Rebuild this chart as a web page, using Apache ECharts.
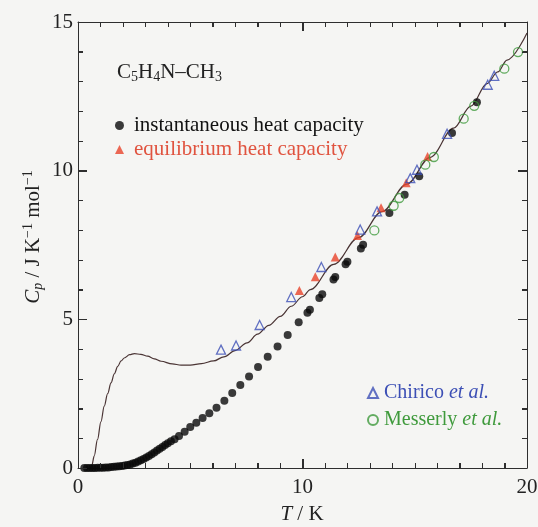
<!DOCTYPE html>
<html>
<head>
<meta charset="utf-8">
<script src="https://cdn.jsdelivr.net/npm/echarts@6/dist/echarts.min.js"></script>
<style>
html,body{margin:0;padding:0;background:#f5f5f3;}
#c{width:538px;height:527px;}
</style>
</head>
<body>
<div id="c"></div>
<script>
// ---- data (T / K, Cp / J K^-1 mol^-1) ----
const fitCurve = [[0.55,0],[0.62,0.1],[0.72,0.4],[0.87,0.96],[1.02,1.55],[1.17,2.08],[1.32,2.5],[1.47,2.86],[1.62,3.17],[1.77,3.42],[1.92,3.6],[2.06,3.7],[2.3,3.81],[2.51,3.85],[2.8,3.82],[3.1,3.76],[3.4,3.67],[3.7,3.59],[4.2,3.5],[4.59,3.46],[5.0,3.46],[5.5,3.51],[6.04,3.6],[6.5,3.74],[7.0,3.95],[7.53,4.21],[8.0,4.5],[8.5,4.8],[9.01,5.1],[9.5,5.44],[10.0,5.76],[10.35,6.0],[11.39,6.85],[12.5,7.75],[13.54,8.62],[14.65,9.55],[15.69,10.45],[16.73,11.43],[17.5,12.17],[18.22,12.93],[18.7,13.32],[19.11,13.72],[20,14.63]];

const instantaneous = [[0.28,0],[0.4,0],[0.52,0],[0.64,0],[0.76,0],[0.88,0.01],[1.0,0.01],[1.12,0.01],[1.24,0.02],[1.36,0.02],[1.48,0.03],[1.6,0.04],[1.72,0.05],[1.84,0.06],[1.96,0.07],[2.08,0.08],[2.2,0.1],[2.32,0.12],[2.44,0.15],[2.56,0.18],[2.68,0.22],[2.8,0.26],[2.92,0.3],[3.04,0.35],[3.16,0.4],[3.28,0.46],[3.4,0.52],[3.52,0.59],[3.64,0.65],[3.76,0.71],[3.88,0.77],[4.0,0.83],[4.14,0.9],[4.3,0.97],[4.5,1.08],[4.75,1.22],[5.0,1.38],[5.27,1.52],[5.55,1.68],[5.85,1.84],[6.17,2.03],[6.52,2.26],[6.87,2.52],[7.23,2.79],[7.62,3.08],[8.02,3.4],[8.45,3.74],[8.89,4.09],[9.34,4.47],[9.83,4.9],[10.22,5.22],[10.33,5.32],[10.75,5.72],[10.88,5.84],[11.38,6.34],[11.46,6.42],[11.92,6.85],[12.0,6.94],[12.6,7.38],[12.7,7.51],[13.87,8.58],[14.55,9.19],[15.2,9.81],[16.66,11.27],[17.77,12.3]];

const equilibrium = [[9.86,5.97],[10.57,6.43],[11.46,7.1],[12.45,7.82],[13.5,8.75],[14.62,9.59],[15.57,10.48]];

const chirico = [[6.37,3.98],[7.04,4.12],[8.09,4.81],[9.5,5.75],[10.84,6.76],[12.57,8.02],[13.32,8.63],[14.8,9.75],[15.1,10.03],[16.44,11.24],[18.25,12.89],[18.54,13.19]];

const messerly = [[13.2,7.99],[14.06,8.82],[14.31,9.08],[15.47,10.2],[15.85,10.46],[17.18,11.75],[17.65,12.18],[18.99,13.43],[19.6,13.99]];

const xTickLabels = ['0','10','20'];
const yTickLabels = ['0','5','10','15'];
const xMinorStep = 1;
const yMinorStep = 1;

// ---- chart ----
const FONT = 'Liberation Serif';
const chart = echarts.init(document.getElementById('c'), null, {renderer:'canvas'});

const xMin = Number(xTickLabels[0]), xMax = Number(xTickLabels[xTickLabels.length-1]);
const xInt = Number(xTickLabels[1]) - xMin;
const yMin = Number(yTickLabels[0]), yMax = Number(yTickLabels[yTickLabels.length-1]);
const yInt = Number(yTickLabels[1]) - yMin;

const FC = '#2e2e2e';

// tick values along the frame
const xTickVals = [], yTickVals = [];
for (let v = xMin; v <= xMax + 1e-9; v += xMinorStep) xTickVals.push(v);
for (let v = yMin; v <= yMax + 1e-9; v += yMinorStep) yTickVals.push(v);

function mainAxis(pos, min, max, interval, split, margin){
  return {
    type:'value', min:min, max:max, interval:interval, position:pos,
    axisLine:{show:true, lineStyle:{color:FC}},
    axisTick:{show:true, inside:true, length:9, lineStyle:{color:FC}},
    minorTick:{show:true, splitNumber:split, length:5, lineStyle:{color:FC}},
    splitLine:{show:false},
    axisLabel:{fontFamily:FONT, fontSize:21, color:'#222', margin:margin}
  };
}
function mirrorAxis(pos, min, max, interval, split){
  return {
    type:'value', min:min, max:max, interval:interval, position:pos,
    axisLine:{show:true, onZero:false, lineStyle:{color:FC}},
    axisTick:{show:true, inside:true, length:9, lineStyle:{color:FC}},
    minorTick:{show:true, splitNumber:split, length:5, lineStyle:{color:FC}},
    splitLine:{show:false},
    axisLabel:{show:false}
  };
}

const gRich = {
  n:{fontFamily:FONT, fontSize:21, lineHeight:24, fill:'#222'},
  i:{fontFamily:FONT, fontSize:21, lineHeight:24, fontStyle:'italic', fill:'#222'},
  isub:{fontFamily:FONT, fontSize:14, lineHeight:8, fontStyle:'italic', verticalAlign:'bottom', fill:'#222'},
  sub:{fontFamily:FONT, fontSize:14, lineHeight:8, verticalAlign:'bottom', fill:'#222'},
  sup:{fontFamily:FONT, fontSize:14, lineHeight:14, verticalAlign:'top', fill:'#222'}
};

const textGraphics = [
  {id:'formula', type:'text', left:117, top:62, silent:true,
    style:{text:'{n|C}{sub|5}{n|H}{sub|4}{n|N–CH}{sub|3}', rich:gRich}},
  {id:'xname', type:'text', x:302, y:514, silent:true,
    style:{text:'{i|T}{n| / K}', rich:gRich, align:'center', verticalAlign:'middle'}},
  {id:'yname', type:'text', x:33, y:237, rotation:Math.PI/2, silent:true,
    style:{text:'{i|C}{isub|p}{n| / J K}{sup|−1}{n| mol}{sup|−1}', rich:gRich, align:'center', verticalAlign:'middle'}}
];

const option = {
  backgroundColor:'#f5f5f3',
  animation:false,
  graphic:textGraphics,
  grid:{left:78, top:22, right:11, bottom:59, containLabel:false, outerBoundsMode:'none'},
  legend:[
    {
      orient:'vertical', left:110, top:110, itemWidth:9, itemHeight:9, itemGap:3,
      data:[
        {name:'instantaneous heat capacity', textStyle:{color:'#111'}},
        {name:'equilibrium heat capacity', textStyle:{color:'#e0533f'}}
      ],
      textStyle:{fontFamily:FONT, fontSize:21, padding:[0,0,0,5]}
    },
    {
      orient:'vertical', left:362, top:378, itemWidth:10, itemHeight:10, itemGap:7,
      data:[
        {name:'Chirico et al.', textStyle:{color:'#3c4fb5'}},
        {name:'Messerly et al.', textStyle:{color:'#3f9a3c'}}
      ],
      formatter:function(name){
        return name.replace(' et al.', ' {it|et al.}');
      },
      textStyle:{fontFamily:FONT, fontSize:20, padding:[0,0,0,1],
        rich:{it:{fontFamily:FONT, fontSize:20, fontStyle:'italic'}}}
    }
  ],
  xAxis:[
    mainAxis('bottom', xMin, xMax, xInt, 10, 9),
    mirrorAxis('top', xMin, xMax, xInt, 10)
  ],
  yAxis:[
    mainAxis('left', yMin, yMax, yInt, 5, 5),
    mirrorAxis('right', yMin, yMax, yInt, 5)
  ],
  series:[
    {
      name:'fit', type:'line', data:fitCurve, showSymbol:false, smooth:0.35, smoothMonotone:'x',
      lineStyle:{color:'#4a3434', width:1.2}, z:2, silent:true
    },
    {
      name:'instantaneous heat capacity', type:'scatter', data:instantaneous,
      symbol:'circle', symbolSize:8, itemStyle:{color:'#0a0a0a'}, z:3
    },
    {
      name:'equilibrium heat capacity', type:'scatter', data:equilibrium,
      symbol:'triangle', symbolSize:9, itemStyle:{color:'#e8432a'}, z:4
    },
    {
      name:'Chirico et al.', type:'scatter', data:chirico,
      symbol:'triangle', symbolSize:9, itemStyle:{color:'rgba(0,0,0,0)', borderColor:'#3c4fb5', borderWidth:1.3}, z:4
    },
    {
      name:'Messerly et al.', type:'scatter', data:messerly,
      symbol:'circle', symbolSize:9, itemStyle:{color:'rgba(0,0,0,0)', borderColor:'#3f9a3c', borderWidth:1.3}, z:4
    }
  ]
};
chart.setOption(option);

// frame ticks placed through the axis scales (convertToPixel), drawn on top
const finder = {xAxisIndex:0, yAxisIndex:0};
const tickGraphics = [];
const snap = function(p){ return Math.round(p) + 0.5; };
xTickVals.forEach(function(v, k){
  const len = (Math.abs(v % xInt) < 1e-9) ? 9 : 5;
  const pb = chart.convertToPixel(finder, [v, yMin]);
  const pt = chart.convertToPixel(finder, [v, yMax]);
  const x = snap(pb[0]);
  tickGraphics.push({id:'xb'+k, type:'line', z:50, silent:true, shape:{x1:x, y1:pb[1], x2:x, y2:pb[1]-len}, style:{stroke:FC, lineWidth:1}});
  tickGraphics.push({id:'xt'+k, type:'line', z:50, silent:true, shape:{x1:x, y1:pt[1], x2:x, y2:pt[1]+len}, style:{stroke:FC, lineWidth:1}});
});
yTickVals.forEach(function(v, k){
  const len = (Math.abs(v % yInt) < 1e-9) ? 9 : 5;
  const pl = chart.convertToPixel(finder, [xMin, v]);
  const pr = chart.convertToPixel(finder, [xMax, v]);
  const y = snap(pl[1]);
  tickGraphics.push({id:'yl'+k, type:'line', z:50, silent:true, shape:{x1:pl[0], y1:y, x2:pl[0]+len, y2:y}, style:{stroke:FC, lineWidth:1}});
  tickGraphics.push({id:'yr'+k, type:'line', z:50, silent:true, shape:{x1:pr[0], y1:y, x2:pr[0]-len, y2:y}, style:{stroke:FC, lineWidth:1}});
});
chart.setOption({graphic: textGraphics.concat(tickGraphics)});
</script>
</body>
</html>
